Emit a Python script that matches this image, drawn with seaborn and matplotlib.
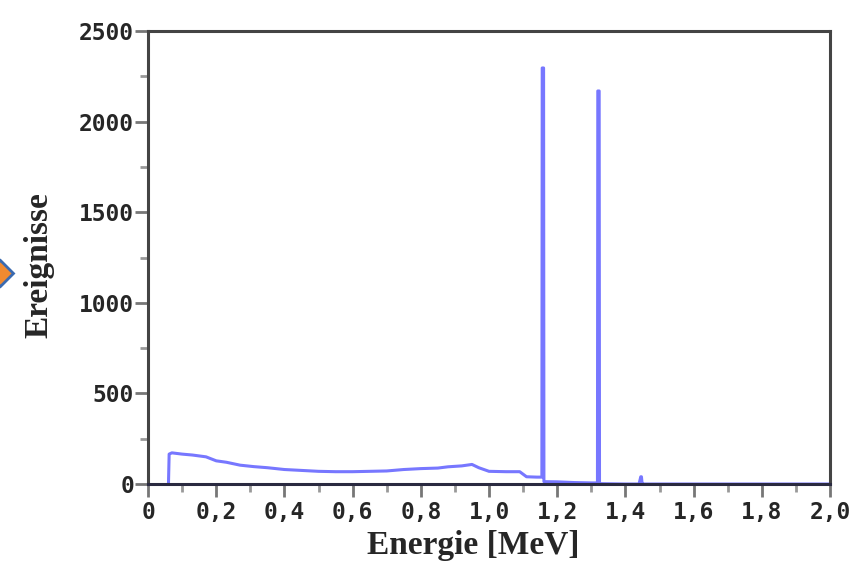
import matplotlib
matplotlib.use("Agg")
import matplotlib.pyplot as plt
import seaborn as sns
import pandas as pd
from matplotlib.ticker import MultipleLocator, FuncFormatter
from matplotlib.lines import Line2D

# Spectrum data (energy in MeV, counts)
energie = [0.060, 0.062, 0.070, 0.10, 0.13, 0.17, 0.20, 0.23, 0.27, 0.31, 0.35, 0.40,
           0.45, 0.50, 0.55, 0.60, 0.65, 0.70, 0.75, 0.80, 0.85, 0.88, 0.92, 0.95,
           0.97, 1.00, 1.05, 1.09, 1.11, 1.14, 1.155, 1.156, 1.160, 1.161, 1.20,
           1.25, 1.30, 1.318, 1.319, 1.323, 1.324, 1.36, 1.40, 1.44, 1.445, 1.447,
           1.449, 1.451, 1.50, 1.70, 2.00]
ereignisse = [0, 165, 172, 165, 160, 150, 128, 120, 104, 96, 90, 80,
              75, 70, 68, 68, 70, 72, 80, 85, 88, 95, 100, 108,
              90, 70, 68, 68, 40, 38, 38, 2296, 2296, 13, 12,
              8, 6, 6, 2169, 2169, 2, 1, 0, 0, 40, 40,
              0, 0, 0, 0, 0]

x_ticks = [0.0, 0.2, 0.4, 0.6, 0.8, 1.0, 1.2, 1.4, 1.6, 1.8, 2.0]
y_ticks = [0, 500, 1000, 1500, 2000, 2500]

df = pd.DataFrame({"Energie": energie, "Ereignisse": ereignisse})

sns.set_style("white")
fig = plt.figure(figsize=(8.58, 5.63), dpi=100)
ax = fig.add_axes([0.1725, 0.1403, 0.9674 - 0.1725, 0.9449 - 0.1403])

sns.lineplot(data=df, x="Energie", y="Ereignisse", estimator=None, sort=False,
             color="#5f5fff", linewidth=2.2, alpha=0.85, ax=ax)

ax.set_xlim(0, 2.0)
ax.set_ylim(0, 2500)
ax.set_xticks(x_ticks)
ax.set_yticks(y_ticks)
ax.xaxis.set_minor_locator(MultipleLocator(0.1))
ax.yaxis.set_minor_locator(MultipleLocator(250))
ax.xaxis.set_major_formatter(FuncFormatter(lambda v, p: "0" if abs(v) < 1e-9 else f"{v:.1f}".replace(".", ",")))

for lab in ax.get_xticklabels() + ax.get_yticklabels():
    lab.set_fontfamily("DejaVu Sans Mono")
    lab.set_fontweight("bold")
    lab.set_fontsize(16.5)

ax.tick_params(axis="x", which="major", direction="out", length=9.5, width=2,
               color="#777777", pad=3, bottom=True)
ax.tick_params(axis="y", which="major", direction="out", length=9.5, width=2,
               color="#777777", pad=0.5, left=True)
ax.tick_params(axis="both", which="minor", direction="out", length=5.5, width=2,
               color="#999999", bottom=True, left=True)

for sp in ax.spines.values():
    sp.set_color("#444444")
    sp.set_linewidth(2.2)
ax.spines["bottom"].set_color("#2a2a40")

ax.set_xlabel("Energie [MeV]", fontfamily="Liberation Serif", fontweight="bold",
              fontsize=24, labelpad=4)
ax.xaxis.label.set_x(0.4765)
ax.set_ylabel("Ereignisse", fontfamily="Liberation Serif", fontweight="bold",
              fontsize=24, labelpad=18)
ax.yaxis.label.set_y(0.483)

# partial decorative marker at the left edge
fig.add_artist(Line2D([0.0], [0.515], marker="D", markersize=13,
                      markerfacecolor="#f08a30", markeredgecolor="#3a6ab0",
                      markeredgewidth=2, transform=fig.transFigure, clip_on=False))

fig.savefig("out.png", dpi=100)
